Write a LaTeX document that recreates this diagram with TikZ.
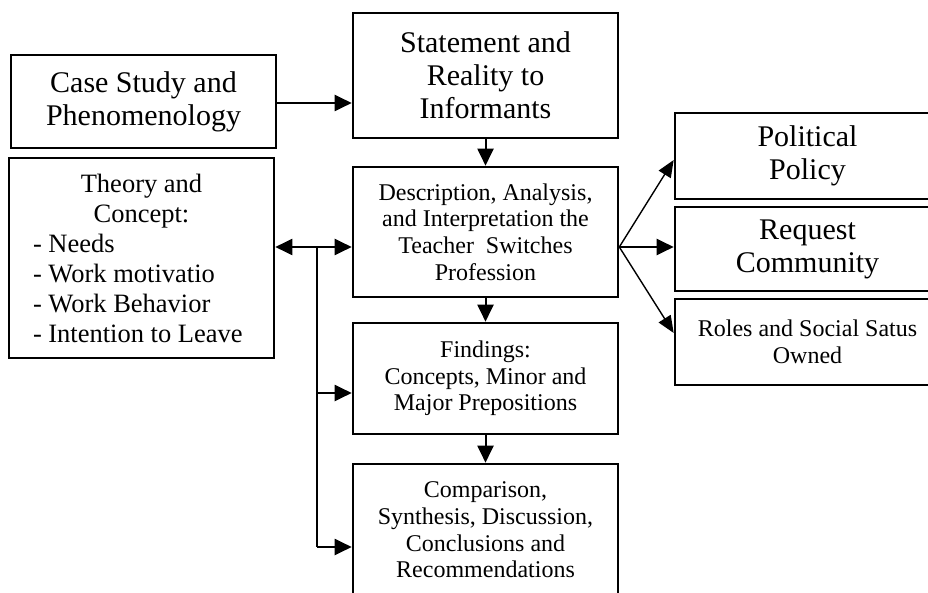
\documentclass[tikz,border=0pt]{standalone}
\usepackage{fontspec}
\setmainfont{Liberation Serif}
\usetikzlibrary{arrows.meta}

\begin{document}
\begin{tikzpicture}[x=1pt,y=-1pt]
        \useasboundingbox (0,0) rectangle (928,593);
        \clip (0,0) rectangle (928,593);
        \begin{scope}[every node/.style={draw=black, line width=2.6pt, inner sep=0pt, minimum width=265pt, align=center, font=\fontsize{30}{33}\selectfont}]
            \node[minimum height=93pt] (1) at (143.5,101.5) {Case Study and\\Phenomenology};
            \node[minimum height=125pt] (2) at (485.5,75.5) {Statement and\\Reality to\\Informants};

            \node[minimum height=200pt, font=\fontsize{26.5}{30}\selectfont] (3) at (141.5,258)
                {\begin{minipage}{217pt}
                    {\centering Theory and\\Concept:\par}
                    \raggedright - Needs\\- Work motivatio\\- Work Behavior\\- Intention to Leave
                 \end{minipage}};

            \node[minimum height=130pt, font=\fontsize{24}{26.7}\selectfont] (4) at (485.5,232)
                {Description, Analysis,\\and Interpretation the\\Teacher\ \ Switches\\Profession};
            \node[minimum height=111pt, font=\fontsize{24}{26.7}\selectfont] (5) at (485.5,378.5)
                {Findings:\\Concepts, Minor and\\Major Prepositions};
            \node[minimum height=132pt, font=\fontsize{24}{26.7}\selectfont] (6) at (485.5,530)
                {Comparison,\\Synthesis, Discussion,\\Conclusions and\\Recommendations};

            \node[minimum height=86pt] (7) at (807.5,156) {Political\\Policy};
            \node[minimum height=84pt] (8) at (807.5,249) {Request\\Community};
            \node[minimum height=86pt, font=\fontsize{24}{26.7}\selectfont] (9) at (807.5,342) {Roles and Social Satus\\Owned};
        \end{scope}

        % junction left of the middle column and its two branches
        \coordinate (j) at (317,247);
        \coordinate (b1) at (317,393);
        \coordinate (b2) at (317,547);

        \begin{scope}[every edge/.style={draw, line width=2pt, -{Triangle[length=17pt,width=16pt]}}]
            \path (1.east |- 0,103) edge (2.west |- 0,103);
            \path (2) edge (4);
            \path (4) edge (5);
            \path (5) edge (6);

            \path (j -| 3.east) edge [{Triangle[length=17pt,width=16pt]}-{Triangle[length=17pt,width=16pt]}] (j -| 4.west);
            \draw [line width=2pt] (j) -- (b2);
            \path (b1) edge (b1 -| 5.west);
            \path (b2) edge (b2 -| 6.west);

            \path (j -| 4.east) edge (j -| 8.west);
        \end{scope}
        \begin{scope}[every edge/.style={draw, line width=1.4pt, -{Triangle[length=17pt,width=14pt]}}]
            \path (j -| 4.east) edge ([yshift=-4pt]7.west);
            \path (j -| 4.east) edge ([yshift=9pt]9.west);
        \end{scope}
    \end{tikzpicture}
\end{document}
